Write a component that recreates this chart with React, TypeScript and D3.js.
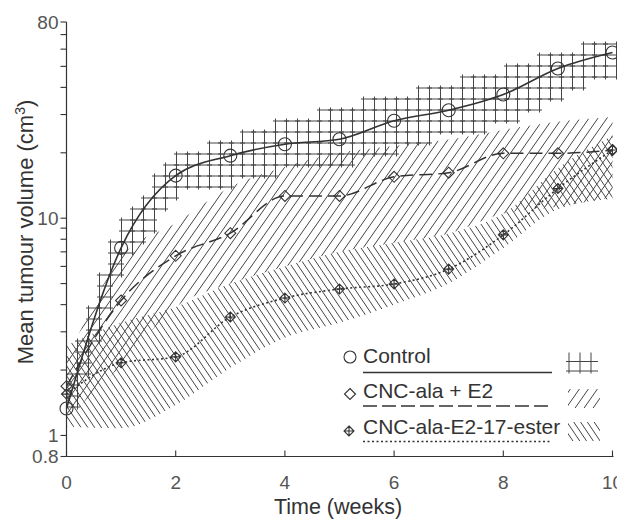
import React from 'react';
import * as d3 from 'd3';

const weeks = [0, 1, 2, 3, 4, 5, 6, 7, 8, 9, 10];

const controlMean = [1.33, 7.3, 15.7, 19.4, 21.9, 23.1, 28.1, 31.4, 37.1, 48.9, 57.9];
const controlLow = [1.15, 6.2, 13.5, 14.7, 17, 18, 21, 24.5, 27.7, 37.6, 46];
const controlHigh = [1.6, 8.6, 18.5, 22.2, 27, 31.5, 36, 40, 47, 56, 66];

const e2Mean = [1.685, 4.18, 6.71, 8.53, 12.66, 12.66, 15.5, 16.2, 19.9, 19.9, 20.6];
const e2Low = [1.2, 2.1, 3.9, 5.0, 6.0, 7.0, 7.7, 8.5, 10.5, 11.3, 12.5];
const e2High = [2.2, 6.6, 9.5, 13.9, 17.2, 20, 21.5, 23, 25.5, 27.8, 29.2];

const esterMean = [1.55, 2.16, 2.3, 3.51, 4.29, 4.72, 4.98, 5.83, 8.38, 13.7, 20.6];
const esterLow = [1.1, 1.08, 1.38, 2.05, 2.82, 3.3, 4.0, 5.0, 7.3, 11.0, 12.3];
const esterHigh = [2.6, 3.3, 3.9, 5.0, 6.0, 7.0, 7.7, 8.5, 10.5, 17, 24];

const xTickValues = [0, 2, 4, 6, 8, 10];
const yLabelTicks = [0.8, 1, 10, 80];
const yMinorTicks = [2, 3, 4, 5, 6, 7, 8, 9, 20, 30, 40, 50, 60, 70];
const legendLabels = ['Control', 'CNC-ala + E2', 'CNC-ala-E2-17-ester'];
const xTitle = 'Time (weeks)';
const yTitle = 'Mean tumour volume (cm';

const W = 617;
const H = 519;
const ink = '#333';
const hatch = '#454545';
const FONT = '"Liberation Sans", Arial, Helvetica, sans-serif';

// hatch line family: x = c - y*k, c stepping by `step`
const hatchPath = (k: number, step: number) => {
  const parts: string[] = [];
  const span = Math.abs(H * k);
  for (let c = -span - step; c <= W + span + step; c += step) {
    parts.push(`M${c},0L${c - H * k},${H}`);
  }
  return parts.join('');
};

export default function App() {
  const x = d3.scaleLinear().domain([0, 10]).range([66.5, 612.5]);
  const y = d3.scaleLog().domain([0.8, 80]).range([456.5, 22]);

  const lineGen = (vals: number[]) =>
    d3.line<number>().x((_, i) => x(weeks[i])).y((d) => y(d)).curve(d3.curveMonotoneX)(vals) || '';
  const areaGen = (lo: number[], hi: number[]) =>
    d3
      .area<number>()
      .x((d) => x(d))
      .y0((_, i) => y(lo[i]))
      .y1((_, i) => y(hi[i]))
      .curve(d3.curveMonotoneX)(weeks) || '';

  const edgeAt = (arr: number[], px: number) => {
    const w = Math.max(0, Math.min(10, x.invert(px)));
    const i = Math.min(9, Math.floor(w));
    const t = w - i;
    return y(arr[i]) + (y(arr[i + 1]) - y(arr[i])) * t;
  };

  // control band: grid of whole cells (stepped edge)
  const cell = 11;
  const ext = 2.5;
  const segs = new Map<string, string>();
  const x0 = x(0);
  const y0 = y(80);
  for (let ci = 0; ci < 50; ci++) {
    const left = x0 + ci * cell;
    const right = left + cell;
    const cx = left + cell / 2;
    if (cx > x(10)) break;
    const top = edgeAt(controlHigh, cx);
    const bot = edgeAt(controlLow, cx);
    for (let rj = 0; rj < 40; rj++) {
      const t = y0 + rj * cell;
      const b = t + cell;
      const cy = t + cell / 2;
      if (cy >= top && cy <= bot) {
        segs.set(`h${ci},${rj}`, `M${left - ext},${t}H${right + ext}`);
        segs.set(`h${ci},${rj + 1}`, `M${left - ext},${b}H${right + ext}`);
        segs.set(`v${ci},${rj}`, `M${left},${t - ext}V${b + ext}`);
        segs.set(`v${ci + 1},${rj}`, `M${right},${t - ext}V${b + ext}`);
      }
    }
  }
  const gridPath = Array.from(segs.values()).join('');

  const fwdLines = hatchPath(0.7, 9);
  const backLines = hatchPath(-0.675, 6.8);

  const circle = (r: number) => `M${-r},0A${r},${r} 0 1,0 ${r},0A${r},${r} 0 1,0 ${-r},0Z`;
  const diamond = (s: number) => `M0,${-s}L${s},0L0,${s}L${-s},0Z`;
  const crossDiamond = (s: number) => `${diamond(s)}M0,${-s}V${s}M${-s},0H${s}`;

  const yTickFmt = (v: number) => (v < 1 ? '0.8' : String(v));

  return (
    <svg
      width={W}
      height={H}
      viewBox={`0 0 ${W} ${H}`}
      style={{ position: 'absolute', left: 0, top: 0, background: '#fff' }}
      fontFamily={FONT}
    >
      <defs>
        <clipPath id="plot">
          <rect x={x(0)} y={0} width={W - x(0)} height={y(0.8)} />
        </clipPath>
        <clipPath id="e2clip">
          <path d={areaGen(e2Low, e2High)} />
        </clipPath>
        <clipPath id="esterclip">
          <path d={areaGen(esterLow, esterHigh)} />
        </clipPath>
        <clipPath id="lg2">
          <rect x={568} y={389} width={32} height={19} />
        </clipPath>
        <clipPath id="lg3">
          <rect x={568} y={422} width={32} height={19} />
        </clipPath>
      </defs>

      {/* bands */}
      <g clipPath="url(#plot)">
        <g clipPath="url(#esterclip)">
          <path d={backLines} fill="none" stroke={hatch} strokeWidth={1} />
        </g>
        <g clipPath="url(#e2clip)">
          <path d={fwdLines} fill="none" stroke={hatch} strokeWidth={1} />
        </g>
        <path d={gridPath} fill="none" stroke={hatch} strokeWidth={1} />
      </g>

      {/* lines */}
      <path d={lineGen(controlMean)} fill="none" stroke={ink} strokeWidth={1.6} />
      <path d={lineGen(e2Mean)} fill="none" stroke={ink} strokeWidth={1.5} strokeDasharray="13,6" />
      <path d={lineGen(esterMean)} fill="none" stroke={ink} strokeWidth={1.6} strokeDasharray="2,2.5" />

      {/* markers */}
      {controlMean.map((v, i) => (
        <path key={`c${i}`} d={circle(6.5)} transform={`translate(${x(weeks[i])},${y(v)})`} fill="none" stroke={ink} strokeWidth={1.1} />
      ))}
      {e2Mean.map((v, i) => (
        <path key={`e${i}`} d={diamond(5.5)} transform={`translate(${x(weeks[i])},${y(v)})`} fill="none" stroke={ink} strokeWidth={1.1} />
      ))}
      {esterMean.map((v, i) => (
        <path key={`s${i}`} d={crossDiamond(5)} transform={`translate(${x(weeks[i])},${y(v)})`} fill="none" stroke={ink} strokeWidth={1.1} />
      ))}

      {/* axes */}
      <line x1={x(0)} y1={y(80)} x2={x(0)} y2={y(0.8)} stroke={ink} strokeWidth={1.2} />
      <line x1={x(0)} y1={y(0.8)} x2={x(10) + 1} y2={y(0.8)} stroke={ink} strokeWidth={1.2} />
      {yLabelTicks.concat(yMinorTicks).map((v) => (
        <line key={`yt${v}`} x1={x(0) - 6} x2={x(0)} y1={y(v)} y2={y(v)} stroke={ink} strokeWidth={1.1} />
      ))}
      {yLabelTicks.map((v) => (
        <text key={`yl${v}`} x={x(0) - 8} y={y(v)} dy="0.36em" textAnchor="end" fontSize={19} fill="#555">
          {yTickFmt(v)}
        </text>
      ))}
      {xTickValues.map((v) => (
        <g key={`xt${v}`}>
          <line x1={x(v)} x2={x(v)} y1={y(0.8)} y2={y(0.8) - 6} stroke={ink} strokeWidth={1.1} />
          <text x={x(v)} y={y(0.8) + 32} textAnchor="middle" fontSize={19} fill="#555">
            {v}
          </text>
        </g>
      ))}
      <text x={338} y={514} textAnchor="middle" fontSize={21.5} fill={ink}>
        {xTitle}
      </text>
      <text transform={`translate(33,232) rotate(-90)`} textAnchor="middle" fontSize={22} fill={ink}>
        {yTitle}
        <tspan fontSize={14} dy={-8}>3</tspan>
        <tspan dy={8}>)</tspan>
      </text>

      {/* legend */}
      <g>
        <path d={circle(6)} transform="translate(350,357)" fill="none" stroke={ink} strokeWidth={1.1} />
        <text x={363} y={363} fontSize={21} fill={ink}>{legendLabels[0]}</text>
        <line x1={363} x2={552} y1={372.5} y2={372.5} stroke={ink} strokeWidth={1.6} />
        <path d={`M569,352.5V373.5M580,352.5V373.5M591,352.5V373.5M566,361.5H598M566,371H598`} fill="none" stroke={hatch} strokeWidth={1} />

        <path d={diamond(5.5)} transform="translate(350,394)" fill="none" stroke={ink} strokeWidth={1.1} />
        <text x={363} y={398} fontSize={21} fill={ink}>{legendLabels[1]}</text>
        <line x1={363} x2={552} y1={406} y2={406} stroke={ink} strokeWidth={1.5} strokeDasharray="14,5" />
        <g clipPath="url(#lg2)">
          <path d={fwdLines} fill="none" stroke={hatch} strokeWidth={1} />
        </g>

        <path d={crossDiamond(5)} transform="translate(349,431)" fill="none" stroke={ink} strokeWidth={1.1} />
        <text x={363} y={434} fontSize={21} fill={ink}>{legendLabels[2]}</text>
        <line x1={363} x2={552} y1={441.5} y2={441.5} stroke={ink} strokeWidth={1.5} strokeDasharray="2,2.5" />
        <g clipPath="url(#lg3)">
          <path d={backLines} fill="none" stroke={hatch} strokeWidth={1} />
        </g>
      </g>
    </svg>
  );
}
